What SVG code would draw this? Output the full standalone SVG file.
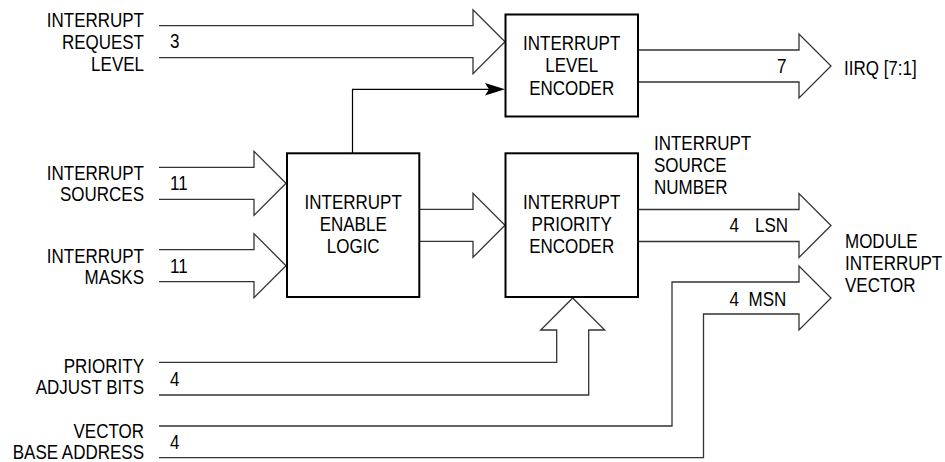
<svg xmlns="http://www.w3.org/2000/svg" width="945" height="462" viewBox="0 0 945 462">
<style>
  text { font-family: "Liberation Sans", Arial, Helvetica, sans-serif; font-size: 20px; fill: #000; }
  .box { fill: #fff; stroke: #000; stroke-width: 2; }
  .bus { fill: none; stroke: #333; stroke-width: 1.3; stroke-linejoin: miter; }
  .wire { fill: none; stroke: #000; stroke-width: 1.2; }
  .mid { text-anchor: middle; }
  .end { text-anchor: end; }
</style>
<rect width="945" height="462" fill="#fff"/>

<g id="connectors">
  <path class="bus" d="M159,25.7 H473 V9.7 L505,41.7 L473,73.7 V57.7 H159"/>
  <path class="bus" d="M638,50 H799 V34 L831,66 L799,98 V82 H638"/>
  <path class="bus" d="M159,167.3 H254 V151.3 L286,183.3 L254,215.3 V199.3 H159"/>
  <path class="bus" d="M159,249.7 H254 V233.7 L286,265.7 L254,297.7 V281.7 H159"/>
  <path class="bus" d="M419,209.3 H473 V193.3 L505,225.3 L473,257.3 V241.3 H419"/>
  <path class="bus" d="M638,209.5 H799 V193.5 L831,225.5 L799,257.5 V241.5 H638"/>
  <path class="bus" d="M159,426 H672 V282 H799 V266 L831,298 L799,330 V314 H703.5 V457.7 H159"/>
  <path class="bus" d="M159,362.3 H556.7 V330 H540.7 L572.7,298 L604.7,330 H588.7 V395 H159"/>
  <path class="wire" d="M352.5,153 V89.3 H490"/>
  <path d="M505,89.3 L485,83 L489,89.3 L485,95.6 Z" fill="#000"/>
  <text transform="translate(170,48.3) scale(0.85,1)">3</text>
  <text transform="translate(777,72.7) scale(0.85,1)">7</text>
  <text transform="translate(170,190) scale(0.85,1)">11</text>
  <text transform="translate(170,272.7) scale(0.85,1)">11</text>
  <text transform="translate(170,386) scale(0.85,1)">4</text>
  <text transform="translate(170,449.3) scale(0.85,1)">4</text>
  <text transform="translate(729.5,231.7) scale(0.85,1)">4<tspan x="30">LSN</tspan></text>
  <text transform="translate(729.5,306) scale(0.85,1)">4<tspan x="22.4">MSN</tspan></text>
</g>

<g id="node-level-encoder">
  <rect class="box" x="505.5" y="14.5" width="132.5" height="102"/>
  <text class="mid" transform="translate(571.7,50) scale(0.85,1)"><tspan x="0">INTERRUPT</tspan><tspan x="0" dy="22.5">LEVEL</tspan><tspan x="0" dy="22.5">ENCODER</tspan></text>
</g>

<g id="node-enable-logic">
  <rect class="box" x="287" y="153.3" width="132.3" height="143.7"/>
  <text class="mid" transform="translate(353.2,209) scale(0.85,1)"><tspan x="0">INTERRUPT</tspan><tspan x="0" dy="21.8">ENABLE</tspan><tspan x="0" dy="21.8">LOGIC</tspan></text>
</g>

<g id="node-priority-encoder">
  <rect class="box" x="505.5" y="153.3" width="132.5" height="143.7"/>
  <text class="mid" transform="translate(571.7,209) scale(0.85,1)"><tspan x="0">INTERRUPT</tspan><tspan x="0" dy="21.8">PRIORITY</tspan><tspan x="0" dy="21.8">ENCODER</tspan></text>
</g>

<g id="label-request-level">
  <text class="end" transform="translate(144,26.7) scale(0.85,1)"><tspan x="0">INTERRUPT</tspan><tspan x="0" dy="22">REQUEST</tspan><tspan x="0" dy="22">LEVEL</tspan></text>
</g>
<g id="label-sources">
  <text class="end" transform="translate(144,179.5) scale(0.85,1)"><tspan x="0">INTERRUPT</tspan><tspan x="0" dy="22">SOURCES</tspan></text>
</g>
<g id="label-masks">
  <text class="end" transform="translate(144,262.5) scale(0.85,1)"><tspan x="0">INTERRUPT</tspan><tspan x="0" dy="22">MASKS</tspan></text>
</g>
<g id="label-priority-adjust">
  <text class="end" transform="translate(144,372.5) scale(0.85,1)"><tspan x="0">PRIORITY</tspan><tspan x="0" dy="22">ADJUST BITS</tspan></text>
</g>
<g id="label-vector-base">
  <text class="end" transform="translate(144,437.5) scale(0.85,1)"><tspan x="0">VECTOR</tspan><tspan x="0" dy="22">BASE ADDRESS</tspan></text>
</g>
<g id="label-iirq">
  <text transform="translate(844,74.5) scale(0.85,1)">IIRQ [7:1]</text>
</g>
<g id="label-source-number">
  <text transform="translate(654,150) scale(0.85,1)"><tspan x="0">INTERRUPT</tspan><tspan x="0" dy="22">SOURCE</tspan><tspan x="0" dy="22">NUMBER</tspan></text>
</g>
<g id="label-module-vector">
  <text transform="translate(845,248) scale(0.85,1)"><tspan x="0">MODULE</tspan><tspan x="0" dy="22">INTERRUPT</tspan><tspan x="0" dy="22">VECTOR</tspan></text>
</g>
</svg>
